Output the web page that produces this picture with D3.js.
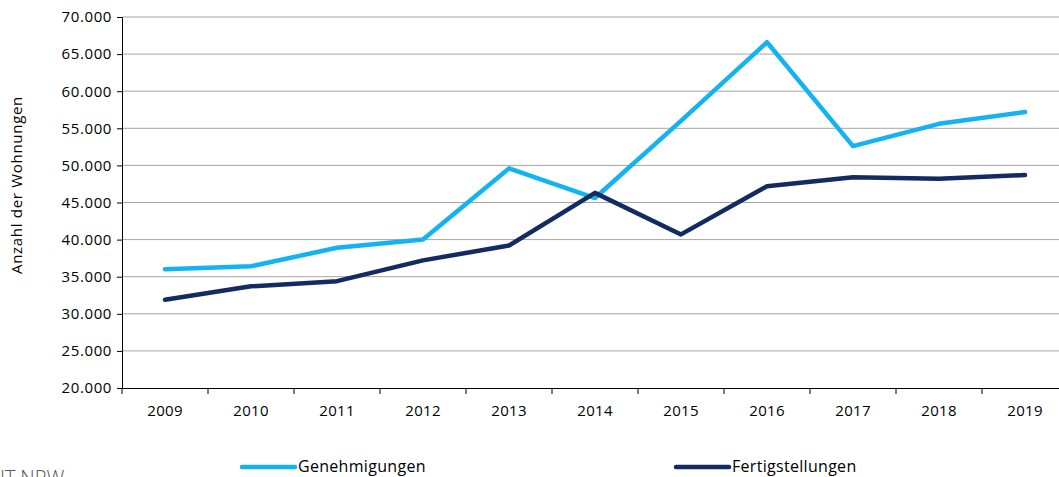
<!DOCTYPE html>
<html>
<head>
<meta charset="utf-8">
<script src="https://cdn.jsdelivr.net/npm/d3@7"></script>
<style>
  body { margin: 0; background: #fff; overflow: hidden; }
  svg { display: block; font-family: "Open Sans", "Noto Sans", sans-serif; }
</style>
</head>
<body>
<div id="chart"></div>
<script>
var width = 1059;
var height = 477;

// data
var years = ["2009", "2010", "2011", "2012", "2013", "2014", "2015", "2016", "2017", "2018", "2019"];
var genehmigungen = [36000, 36400, 38900, 40000, 49600, 45600, 56000, 66600, 52600, 55600, 57200];
var fertigstellungen = [31900, 33700, 34400, 37200, 39200, 46300, 40700, 47200, 48400, 48200, 48700];
var yTicks = [20000, 25000, 30000, 35000, 40000, 45000, 50000, 55000, 60000, 65000, 70000];

var series = [
  { name: "Genehmigungen", values: genehmigungen, color: "#13b3f3" },
  { name: "Fertigstellungen", values: fertigstellungen, color: "#142a62" }
];

// plot area edges
var plotLeft = 122, plotRight = 1068, plotTop = 17, plotBottom = 388;

var svg = d3.select("#chart")
  .append("svg")
  .attr("width", width)
  .attr("height", height);

var xScale = d3.scaleBand()
  .domain(years)
  .range([plotLeft, plotRight]);

var yScale = d3.scaleLinear()
  .domain([20000, 70000])
  .range([plotBottom, plotTop]);

// gridlines
svg.append("g")
  .selectAll("line")
  .data(yTicks.slice(1))
  .enter()
  .append("line")
  .attr("x1", plotLeft)
  .attr("x2", width)
  .attr("y1", function(d) { return yScale(d); })
  .attr("y2", function(d) { return yScale(d); })
  .attr("stroke", "#a6a6a6")
  .attr("stroke-width", 1);

// y axis
var yAxis = d3.axisLeft(yScale)
  .tickValues(yTicks)
  .tickSize(5)
  .tickPadding(5)
  .tickFormat(function(d) { return (d / 1000) + ".000"; });

var yG = svg.append("g")
  .attr("transform", "translate(" + plotLeft + ",0)")
  .call(yAxis);
yG.selectAll("text")
  .attr("font-size", 15)
  .attr("letter-spacing", 0.6)
  .attr("font-family", "Open Sans, sans-serif")
  .attr("fill", "#000");

// x axis
var xAxis = d3.axisBottom(xScale)
  .tickSize(0)
  .tickPadding(17);

var xG = svg.append("g")
  .attr("transform", "translate(0," + plotBottom + ")")
  .call(xAxis);
xG.selectAll("text")
  .attr("font-size", 15)
  .attr("letter-spacing", 0.3)
  .attr("font-family", "Open Sans, sans-serif")
  .attr("fill", "#000");

// category boundary ticks
xG.selectAll(".bound")
  .data(years)
  .enter()
  .append("line")
  .attr("class", "bound")
  .attr("x1", function(d) { return xScale(d); })
  .attr("x2", function(d) { return xScale(d); })
  .attr("y1", 0)
  .attr("y2", 6)
  .attr("stroke", "#000");

svg.selectAll(".domain").attr("stroke", "#000");

// lines
var line = d3.line()
  .x(function(d, i) { return xScale(years[i]) + xScale.bandwidth() / 2; })
  .y(function(d) { return yScale(d); });

svg.selectAll(".series")
  .data(series)
  .enter()
  .append("path")
  .attr("class", "series")
  .attr("d", function(s) { return line(s.values); })
  .attr("fill", "none")
  .attr("stroke", function(s) { return s.color; })
  .attr("stroke-width", 4.5)
  .attr("stroke-linejoin", "round")
  .attr("stroke-linecap", "round");

// y axis title
svg.append("text")
  .attr("transform", "translate(22,185)rotate(-90)")
  .attr("text-anchor", "middle")
  .attr("font-size", 15)
  .attr("letter-spacing", 0.7)
  .attr("fill", "#000")
  .text("Anzahl der Wohnungen");

// legend
var legendX = [240, 674];
var legend = svg.selectAll(".legend")
  .data(series)
  .enter()
  .append("g")
  .attr("class", "legend")
  .attr("transform", function(s, i) { return "translate(" + legendX[i] + ",467)"; });

legend.append("line")
  .attr("x1", 2)
  .attr("x2", 55)
  .attr("y1", 0)
  .attr("y2", 0)
  .attr("stroke", function(s) { return s.color; })
  .attr("stroke-width", 4.5)
  .attr("stroke-linecap", "round");

legend.append("text")
  .attr("x", 58)
  .attr("y", 5)
  .attr("font-size", 16)
  .attr("letter-spacing", 0.3)
  .attr("fill", "#000")
  .text(function(s) { return s.name; });

// source note, cut off at the bottom edge as in the original
svg.append("text")
  .attr("x", 0)
  .attr("y", 485)
  .attr("font-size", 20)
  .attr("font-weight", 300)
  .attr("fill", "#555")
  .text("IT.NRW");
</script>
</body>
</html>
